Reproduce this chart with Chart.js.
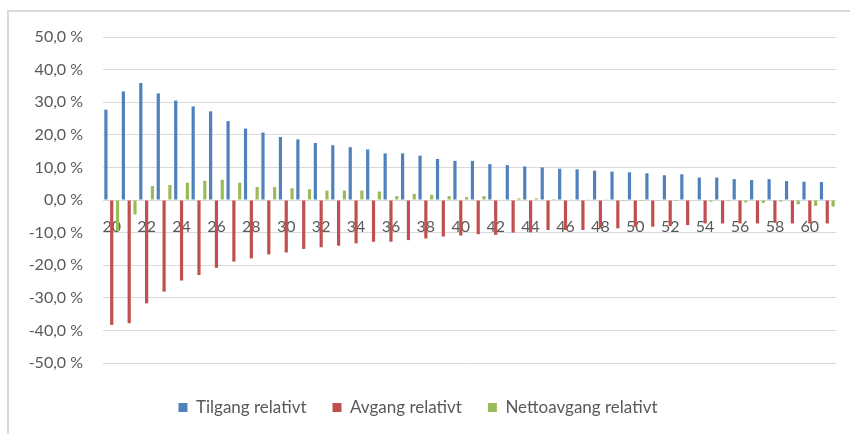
<!DOCTYPE html>
<html>
<head>
<meta charset="utf-8">
<script src="https://cdn.jsdelivr.net/npm/chart.js@4/dist/chart.umd.min.js"></script>
<style>
  html, body { margin: 0; padding: 0; background: #fff; }
  #wrap { position: relative; width: 850px; height: 434px; overflow: hidden; }
  #frame {
    position: absolute; left: 7px; top: 10px; width: 860px; height: 440px;
    border-left: 2px solid #d9d9d9; border-top: 2px solid #d9d9d9;
  }
  canvas { position: absolute; left: 0; top: 0; }
</style>
</head>
<body>
<div id="wrap">
  <div id="frame"></div>
  <canvas id="chart" width="850" height="434"></canvas>
</div>
<script>
const ages = ["20","21","22","23","24","25","26","27","28","29",
              "30","31","32","33","34","35","36","37","38","39",
              "40","41","42","43","44","45","46","47","48","49",
              "50","51","52","53","54","55","56","57","58","59",
              "60","61"];

const tilgang = [27.7, 33.3, 35.9, 32.7, 30.5, 28.7, 27.2, 24.2, 21.9, 20.7,
                 19.3, 18.6, 17.5, 16.8, 16.2, 15.5, 14.3, 14.3, 13.6, 12.6,
                 12.0, 12.0, 11.0, 10.7, 10.3, 10.0, 9.6, 9.4, 9.0, 8.7,
                 8.5, 8.2, 7.6, 7.9, 6.9, 6.9, 6.4, 6.1, 6.4, 5.8,
                 5.6, 5.5];

const avgang = [-38.3, -37.8, -31.7, -28.1, -24.7, -23.0, -20.8, -18.9, -17.9, -16.7,
                -16.1, -15.0, -14.5, -14.0, -13.3, -12.8, -12.8, -12.3, -11.8, -11.2,
                -10.9, -10.5, -10.7, -10.0, -9.9, -9.2, -9.2, -9.2, -8.7, -8.7,
                -8.2, -8.2, -8.0, -7.7, -7.2, -7.2, -7.2, -7.2, -7.0, -7.2,
                -7.2, -7.2];

const netto = [-9.5, -4.4, 4.3, 4.6, 5.3, 5.9, 6.2, 5.3, 4.0, 4.0,
               3.6, 3.3, 2.9, 2.9, 2.9, 2.6, 1.2, 1.9, 1.6, 1.2,
               0.9, 1.2, 0.1, 0.5, 0.5, 0.3, 0.2, 0.1, 0.1, -0.3,
               -0.3, -0.3, -0.3, -0.2, -0.5, -0.3, -0.7, -0.9, -0.5, -1.3,
               -1.8, -2.0];

const COLORS = { blue: "#4f81bd", red: "#c0504d", green: "#9bbb59", text: "#595959", grid: "#d9d9d9" };
const FONT = "Lato, 'Open Sans', sans-serif";

function series(label, data, color) {
    return {
        label: label,
        data: data,
        backgroundColor: color,
        borderWidth: 0,
        categoryPercentage: 1.0,
        barPercentage: 0.55,
    };
}

new Chart(document.getElementById("chart"), {
    type: "bar",
    data: {
        labels: ages,
        datasets: [
            series("Tilgang relativt", tilgang, COLORS.blue),
            series("Avgang relativt", avgang, COLORS.red),
            series("Nettoavgang relativt", netto, COLORS.green),
        ],
    },
    options: {
        responsive: false,
        animation: false,
        layout: { padding: { left: 0, right: 14, top: 37, bottom: 8 } },
        plugins: {
            tooltip: { enabled: false },
            legend: {
                position: "bottom",
                labels: {
                    color: COLORS.text,
                    font: { family: FONT, size: 17 },
                    boxWidth: 9,
                    boxHeight: 9,
                    padding: 26,
                },
            },
        },
        scales: {
            x: {
                position: { y: 0 },
                grid: { display: false, drawTicks: false },
                border: { display: false },
                ticks: {
                    autoSkip: false,
                    maxRotation: 0,
                    padding: 17,
                    color: COLORS.text,
                    font: { family: FONT, size: 16 },
                    callback: function (value, index) {
                        return index % 2 === 0 ? this.getLabelForValue(value) : "";
                    },
                },
            },
            // empty spacer so the plot stops above the legend
            spacer: {
                type: "category",
                position: "bottom",
                grid: { display: false, drawTicks: false },
                border: { display: false },
                ticks: { display: false },
                afterFit: (scale) => { scale.height = 10; },
            },
            y: {
                min: -50,
                max: 50,
                grid: { color: COLORS.grid, lineWidth: 1, drawTicks: false },
                border: { display: false },
                afterFit: (scale) => { scale.width = 103; },
                ticks: {
                    stepSize: 10,
                    padding: 20,
                    color: COLORS.text,
                    font: { family: FONT, size: 16 },
                    callback: (v) => v.toFixed(1).replace(".", ",") + " %",
                },
            },
        },
    },
});
</script>
</body>
</html>
